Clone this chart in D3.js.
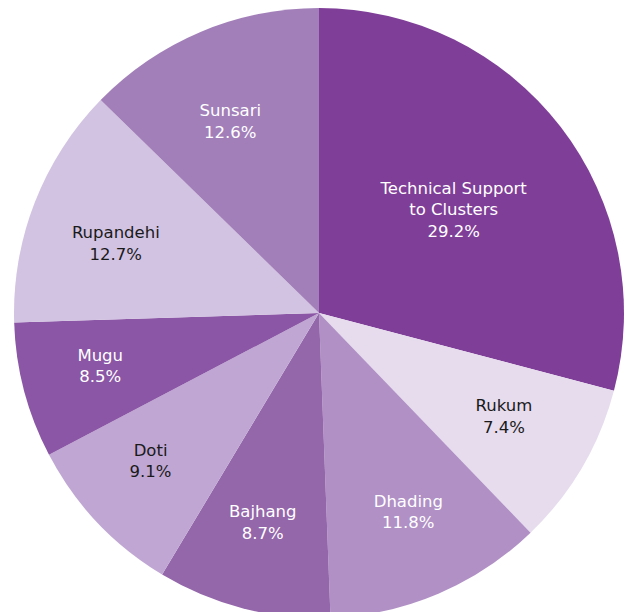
<!DOCTYPE html>
<html><head><meta charset="utf-8">
<script src="https://cdn.jsdelivr.net/npm/d3@7"></script>
<style>html,body{margin:0;padding:0;background:#fff;overflow:hidden}</style>
</head><body>
<svg id="chart" width="628" height="612"></svg>
<script>
const categories = ["Technical Support to Clusters","Rukum","Dhading","Bajhang","Doti","Mugu","Rupandehi","Sunsari"];
// slice shares as drawn in the picture
const values = [29.1, 8.7, 11.6, 9.2, 8.7, 7.2, 12.8, 12.7];
// percentages as printed on the labels
const percentLabels = ["29.2%","7.4%","11.8%","8.7%","9.1%","8.5%","12.7%","12.6%"];
const labelLines = [["Technical Support","to Clusters"],["Rukum"],["Dhading"],["Bajhang"],["Doti"],["Mugu"],["Rupandehi"],["Sunsari"]];
const colors = ["#7f3e98","#e6dcee","#b090c5","#9466aa","#c0a6d3","#8a56a5","#d2c3e2","#a27fb9"];
const textColors = ["#fff","#1a1a1a","#fff","#fff","#1a1a1a","#fff","#1a1a1a","#fff"];
const labelNudge = [[0,0],[-3,-7],[4,-2],[-2,-2],[-10,-2],[-8,-3],[0,9],[-4,9]];

const svg = d3.select("#chart");
const cx = 319, cy = 313, R = 305;
const g = svg.append("g").attr("transform", `translate(${cx},${cy})`);
const data = categories.map((c,i)=>({cat:c, v:values[i], i}));
const pie = d3.pie().value(d=>d.v).sort(null);
const arcs = pie(data);
const arc = d3.arc().innerRadius(0).outerRadius(R);
g.selectAll("path").data(arcs).join("path")
  .attr("d", arc).attr("fill", d=>colors[d.data.i]);

const labelArc = d3.arc().innerRadius(218).outerRadius(218);
const labelArcMain = d3.arc().innerRadius(170).outerRadius(170);
const lh = 21.5;
g.selectAll("text").data(arcs).join("text")
  .attr("text-anchor","middle")
  .attr("font-family","'DejaVu Sans', Verdana, sans-serif")
  .attr("font-size", 16.5)
  .attr("fill", d=>textColors[d.data.i])
  .each(function(d){
    const i = d.data.i;
    const c = (i===0 ? labelArcMain : labelArc).centroid(d);
    const x = c[0] + labelNudge[i][0], y = c[1] + labelNudge[i][1];
    const lines = labelLines[i].concat([percentLabels[i]]);
    const y0 = y - (lines.length-1)*lh/2;
    const t = d3.select(this);
    lines.forEach((s,k)=>{
      t.append("tspan").attr("x", x).attr("y", y0 + k*lh).attr("dy","0.35em").text(s);
    });
  });
</script>
</body></html>
